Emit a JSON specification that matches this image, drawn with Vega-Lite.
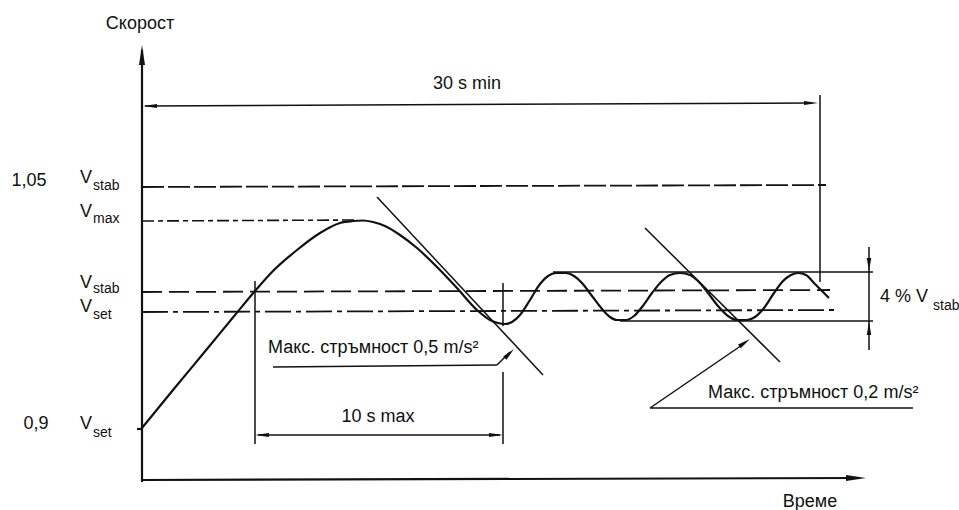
{
  "$schema": "https://vega.github.io/schema/vega-lite/v6.json",
  "width": 959,
  "height": 510,
  "padding": 0,
  "autosize": {"type": "none"},
  "background": "white",
  "config": {"view": {"stroke": null}, "text": {"font": "Liberation Sans", "color": "#111"}},
  "datasets": {
    "axes": [
      {"x": 0, "y": -0.2, "x2": 0, "y2": 43.0},
      {"x": 0, "y": 0, "x2": 71.6, "y2": 0.2},
      {"x": -0.5, "y": 5.1, "x2": 0, "y2": 5.1}
    ],
    "thin": [
      {"part": "30 s min", "x": 0.3, "y": 37.4, "x2": 67.0, "y2": 37.7},
      {"part": "30 s end", "x": 67.8, "y": 38.5, "x2": 67.8, "y2": 19.8},
      {"part": "10 s start", "x": 11.3, "y": 19.9, "x2": 11.3, "y2": 3.6},
      {"part": "10 s end a", "x": 36.1, "y": 19.7, "x2": 36.1, "y2": 15.4},
      {"part": "10 s end b", "x": 36.1, "y": 10.8, "x2": 36.1, "y2": 3.6},
      {"part": "10 s max", "x": 11.6, "y": 4.5, "x2": 35.8, "y2": 4.5},
      {"part": "tangent 0,5", "x": 23.5, "y": 28.3, "x2": 40.1, "y2": 10.5},
      {"part": "tangent 0,2", "x": 50.3, "y": 25.2, "x2": 63.8, "y2": 11.8},
      {"part": "band top", "x": 41.1, "y": 20.8, "x2": 73.1, "y2": 20.8},
      {"part": "band bottom", "x": 47.8, "y": 15.9, "x2": 73.1, "y2": 15.9},
      {"part": "4 %", "x": 72.7, "y": 23.3, "x2": 72.7, "y2": 13.0},
      {"part": "leader 0,5 a", "x": 13.1, "y": 11.3, "x2": 35.5, "y2": 11.5},
      {"part": "leader 0,5 b", "x": 35.5, "y": 11.5, "x2": 36.8, "y2": 12.8},
      {"part": "leader 0,2 a", "x": 50.8, "y": 7.2, "x2": 77.1, "y2": 7.2},
      {"part": "leader 0,2 b", "x": 50.8, "y": 7.2, "x2": 60.3, "y2": 13.7}
    ],
    "levels": [
      {"level": "Vstab 1,05", "x": 0, "y": 29.3, "x2": 68.4, "y2": 29.5},
      {"level": "Vmax", "x": 0, "y": 25.9, "x2": 21.5, "y2": 26.0},
      {"level": "Vstab", "x": 0, "y": 18.8, "x2": 68.8, "y2": 19.0},
      {"level": "Vset", "x": 0, "y": 16.8, "x2": 69.3, "y2": 17.0}
    ],
    "curve": [
      {"x": 0, "y": 5.2}, {"x": 3.1, "y": 9.0}, {"x": 6.5, "y": 13.1}, {"x": 9.3, "y": 16.5},
      {"x": 11.3, "y": 18.9}, {"x": 13.1, "y": 20.9}, {"x": 15.5, "y": 23.0}, {"x": 17.8, "y": 24.7},
      {"x": 19.8, "y": 25.7}, {"x": 21.1, "y": 25.9}, {"x": 22.1, "y": 25.95}, {"x": 23.1, "y": 25.8},
      {"x": 24.3, "y": 25.4}, {"x": 25.8, "y": 24.5}, {"x": 27.5, "y": 23.2}, {"x": 29.5, "y": 21.3},
      {"x": 31.5, "y": 19.2}, {"x": 33.5, "y": 17.0}, {"x": 34.8, "y": 16.0}, {"x": 35.6, "y": 15.7},
      {"x": 36.3, "y": 15.6}, {"x": 37.0, "y": 15.8}, {"x": 37.8, "y": 16.5}, {"x": 38.8, "y": 18.0},
      {"x": 39.8, "y": 19.6}, {"x": 40.6, "y": 20.4}, {"x": 41.4, "y": 20.7}, {"x": 42.4, "y": 20.7},
      {"x": 43.2, "y": 20.4}, {"x": 44.0, "y": 19.7}, {"x": 45.0, "y": 18.4}, {"x": 46.0, "y": 17.1},
      {"x": 46.8, "y": 16.3}, {"x": 47.5, "y": 16.0}, {"x": 48.4, "y": 16.0}, {"x": 49.2, "y": 16.4},
      {"x": 50.0, "y": 17.3}, {"x": 51.0, "y": 18.7}, {"x": 52.0, "y": 19.9}, {"x": 52.8, "y": 20.5},
      {"x": 53.8, "y": 20.7}, {"x": 54.8, "y": 20.5}, {"x": 55.6, "y": 19.9}, {"x": 56.6, "y": 18.7},
      {"x": 57.6, "y": 17.4}, {"x": 58.6, "y": 16.4}, {"x": 59.5, "y": 16.0}, {"x": 60.5, "y": 16.0},
      {"x": 61.3, "y": 16.3}, {"x": 62.2, "y": 17.2}, {"x": 63.2, "y": 18.7}, {"x": 64.1, "y": 19.9},
      {"x": 64.9, "y": 20.5}, {"x": 65.6, "y": 20.7}, {"x": 66.4, "y": 20.5}, {"x": 67.2, "y": 19.7},
      {"x": 68.0, "y": 18.9}, {"x": 68.7, "y": 18.2}
    ],
    "heads": [
      {"kind": "axis", "x": 0, "y": 43.5, "dir": 0},
      {"kind": "axis", "x": 72.4, "y": 0.2, "dir": 90},
      {"kind": "dim", "x": 0.1, "y": 37.4, "dir": 270},
      {"kind": "dim", "x": 67.6, "y": 37.7, "dir": 90},
      {"kind": "dim", "x": 11.3, "y": 4.5, "dir": 270},
      {"kind": "dim", "x": 36.1, "y": 4.5, "dir": 90},
      {"kind": "lead", "x": 37.2, "y": 13.1, "dir": 45},
      {"kind": "lead", "x": 60.8, "y": 14.1, "dir": 55},
      {"kind": "lead", "x": 72.7, "y": 20.9, "dir": 180},
      {"kind": "lead", "x": 72.7, "y": 15.8, "dir": 0}
    ],
    "titles": [
      {"x": -0.2, "y": 45.6, "text": "Скорост"},
      {"x": 32.5, "y": 39.6, "text": "30 s min"},
      {"x": 23.6, "y": 6.3, "text": "10 s max"},
      {"x": 66.8, "y": -2.2, "text": "Време"},
      {"x": -11.3, "y": 29.9, "text": "1,05"},
      {"x": -10.6, "y": 5.6, "text": "0,9"}
    ],
    "notes": [
      {"x": 12.6, "y": 13.2, "text": "Макс. стръмност 0,5 m/s²"},
      {"x": 56.6, "y": 8.7, "text": "Макс. стръмност 0,2 m/s²"},
      {"x": 73.8, "y": 18.3, "text": "4 % V"}
    ],
    "vs": [
      {"x": -6.2, "y": 30.2, "text": "V"},
      {"x": -6.2, "y": 26.8, "text": "V"},
      {"x": -6.2, "y": 19.7, "text": "V"},
      {"x": -6.2, "y": 17.3, "text": "V"},
      {"x": -6.2, "y": 5.6, "text": "V"}
    ],
    "subs": [
      {"x": -4.9, "y": 29.4, "text": "stab"},
      {"x": -4.9, "y": 26.1, "text": "max"},
      {"x": -4.9, "y": 19.1, "text": "stab"},
      {"x": -4.9, "y": 16.5, "text": "set"},
      {"x": -4.9, "y": 4.7, "text": "set"},
      {"x": 79.1, "y": 17.4, "text": "stab"}
    ]
  },
  "encoding": {
    "x": {"field": "x", "type": "quantitative", "scale": {"domain": [-14.2, 81.7], "nice": false, "zero": false}, "axis": null},
    "y": {"field": "y", "type": "quantitative", "scale": {"domain": [-3, 48], "nice": false, "zero": false}, "axis": null}
  },
  "layer": [
    {
      "data": {"name": "levels"},
      "transform": [{"filter": "datum.level === 'Vstab 1,05'"}],
      "mark": {"type": "rule", "color": "#111", "strokeWidth": 1.8, "strokeDash": [22, 4]},
      "encoding": {"x2": {"field": "x2"}, "y2": {"field": "y2"}}
    },
    {
      "data": {"name": "levels"},
      "transform": [{"filter": "datum.level === 'Vmax'"}],
      "mark": {"type": "rule", "color": "#111", "strokeWidth": 1.6, "strokeDash": [12, 4, 5, 4]},
      "encoding": {"x2": {"field": "x2"}, "y2": {"field": "y2"}}
    },
    {
      "data": {"name": "levels"},
      "transform": [{"filter": "datum.level === 'Vstab'"}],
      "mark": {"type": "rule", "color": "#111", "strokeWidth": 1.8, "strokeDash": [20, 7]},
      "encoding": {"x2": {"field": "x2"}, "y2": {"field": "y2"}}
    },
    {
      "data": {"name": "levels"},
      "transform": [{"filter": "datum.level === 'Vset'"}],
      "mark": {"type": "rule", "color": "#111", "strokeWidth": 1.8, "strokeDash": [26, 5, 5, 5]},
      "encoding": {"x2": {"field": "x2"}, "y2": {"field": "y2"}}
    },
    {
      "data": {"name": "thin"},
      "mark": {"type": "rule", "color": "#111", "strokeWidth": 1.5},
      "encoding": {"x2": {"field": "x2"}, "y2": {"field": "y2"}}
    },
    {
      "data": {"name": "axes"},
      "mark": {"type": "rule", "color": "#111", "strokeWidth": 2.2},
      "encoding": {"x2": {"field": "x2"}, "y2": {"field": "y2"}}
    },
    {
      "data": {"name": "curve"},
      "mark": {"type": "line", "color": "#111", "strokeWidth": 2.2, "interpolate": "monotone"},
      "encoding": {}
    },
    {
      "data": {"name": "heads"},
      "transform": [{"filter": "datum.kind === 'axis'"}],
      "mark": {"type": "point", "shape": "M0,0L0.3,2L-0.3,2Z", "filled": true, "color": "#111", "opacity": 1, "size": 400},
      "encoding": {"angle": {"field": "dir", "type": "quantitative", "scale": null}}
    },
    {
      "data": {"name": "heads"},
      "transform": [{"filter": "datum.kind === 'dim'"}],
      "mark": {"type": "point", "shape": "M0,0L0.3,2L-0.3,2Z", "filled": true, "color": "#111", "opacity": 1, "size": 196},
      "encoding": {"angle": {"field": "dir", "type": "quantitative", "scale": null}}
    },
    {
      "data": {"name": "heads"},
      "transform": [{"filter": "datum.kind === 'lead'"}],
      "mark": {"type": "point", "shape": "M0,0L0.35,2L-0.35,2Z", "filled": true, "color": "#111", "opacity": 1, "size": 169},
      "encoding": {"angle": {"field": "dir", "type": "quantitative", "scale": null}}
    },
    {
      "data": {"name": "titles"},
      "mark": {"type": "text", "fontSize": 18, "align": "center", "baseline": "middle"},
      "encoding": {"text": {"field": "text"}}
    },
    {
      "data": {"name": "notes"},
      "mark": {"type": "text", "fontSize": 18, "align": "left", "baseline": "middle"},
      "encoding": {"text": {"field": "text"}}
    },
    {
      "data": {"name": "vs"},
      "mark": {"type": "text", "fontSize": 18, "align": "left", "baseline": "middle"},
      "encoding": {"text": {"field": "text"}}
    },
    {
      "data": {"name": "subs"},
      "mark": {"type": "text", "fontSize": 14, "align": "left", "baseline": "middle"},
      "encoding": {"text": {"field": "text"}}
    }
  ]
}
